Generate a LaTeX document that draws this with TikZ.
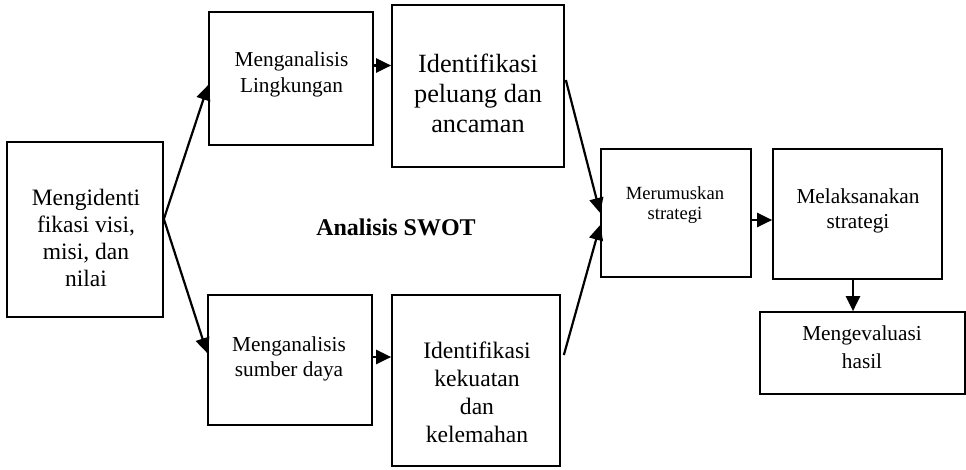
\documentclass[tikz,border=0pt]{standalone}
\usepackage{fontspec}
\setmainfont{Liberation Serif}
\usetikzlibrary{arrows.meta,calc}
\begin{document}
\begin{tikzpicture}[x=1pt,y=-1pt,
  box/.style={draw,line width=1.7pt,inner sep=0pt,anchor=center},
  txt/.style={anchor=north,align=center,inner sep=0pt},
  arr/.style={line width=2.2pt,-{Triangle[length=15pt,width=14pt]}}]
\useasboundingbox (0,0) rectangle (966,469);
% boxes
\node[box,minimum width=156pt,minimum height=175pt] (A) at (85,229.5) {};
\node[box,minimum width=164pt,minimum height=133pt] (B) at (291,78.5) {};
\node[box,minimum width=172pt,minimum height=162pt] (C) at (478,86) {};
\node[box,minimum width=164pt,minimum height=130pt] (D) at (290,360) {};
\node[box,minimum width=168pt,minimum height=171pt] (E) at (476,380.5) {};
\node[box,minimum width=150pt,minimum height=128pt] (F) at (676,213) {};
\node[box,minimum width=169pt,minimum height=130pt] (G) at (857.5,214) {};
\node[box,minimum width=205pt,minimum height=82pt] (H) at (862.5,353) {};
% texts
\node[txt,font=\fontsize{23.5}{27}\selectfont] (tA) at (86,189) {Mengidenti\\fikasi visi,\\misi, dan\\nilai};
\node[txt,font=\fontsize{21.3}{25.5}\selectfont] (tB) at (291.5,52) {Menganalisis\\Lingkungan};
\node[txt,font=\fontsize{26.3}{30}\selectfont] (tC) at (478,54) {Identifikasi\\peluang dan\\ancaman};
\node[txt,font=\fontsize{21.3}{25}\selectfont] (tD) at (289,337) {Menganalisis\\sumber daya};
\node[txt,font=\fontsize{23.6}{28}\selectfont] (tE) at (477,342) {Identifikasi\\kekuatan\\dan\\kelemahan};
\node[txt,font=\fontsize{18.6}{20.5}\selectfont] (tF) at (675,186) {Merumuskan\\strategi};
\node[txt,font=\fontsize{21.3}{25}\selectfont] (tG) at (858,189) {Melaksanakan\\strategi};
\node[txt,font=\fontsize{21.3}{28}\selectfont] (tH) at (862,326) {Mengevaluasi\\hasil};
\node[txt,font=\fontsize{24}{28}\selectfont\bfseries] (lab) at (396,219) {Analisis SWOT};
% connectors
\coordinate (a0) at ([yshift=10.5pt]A.east);
\draw[arr] (a0) -- ([yshift=-6.5pt]B.west);
\draw[arr] (a0) -- ([yshift=7pt]D.west);
\coordinate (b0) at ([yshift=13pt]B.east);
\draw[arr] (b0) -- (b0 -| C.west);
\coordinate (d0) at ([yshift=3pt]D.east);
\draw[arr] (d0) -- (d0 -| E.west);
\draw[arr] ([xshift=1pt,yshift=6pt]C.east) -- (F.west);
\draw[arr] ([xshift=3pt,yshift=25.5pt]E.east) -- ([yshift=-12pt]F.west);
\coordinate (f0) at ([yshift=-7pt]F.east);
\draw[arr] (f0) -- (f0 -| G.west);
\coordinate (g0) at ([xshift=-4.5pt]G.south);
\draw[arr] (g0) -- (g0 |- H.north);
\end{tikzpicture}
\end{document}
